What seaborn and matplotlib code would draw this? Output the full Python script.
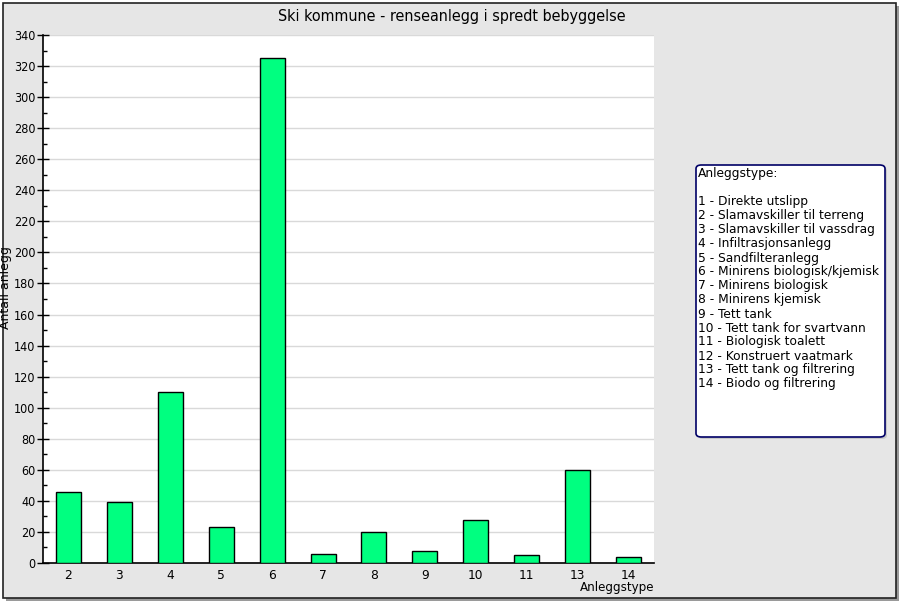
import matplotlib
matplotlib.use("Agg")
import matplotlib.pyplot as plt
import seaborn as sns
import pandas as pd
from matplotlib.patches import Rectangle, FancyBboxPatch
from matplotlib.ticker import MultipleLocator

categories = ["2", "3", "4", "5", "6", "7", "8", "9", "10", "11", "13", "14"]
values = [46, 39, 110, 23, 325, 6, 20, 8, 28, 5, 60, 4]
legend_title = "Anleggstype:"
legend_lines = [
    "1 - Direkte utslipp",
    "2 - Slamavskiller til terreng",
    "3 - Slamavskiller til vassdrag",
    "4 - Infiltrasjonsanlegg",
    "5 - Sandfilteranlegg",
    "6 - Minirens biologisk/kjemisk",
    "7 - Minirens biologisk",
    "8 - Minirens kjemisk",
    "9 - Tett tank",
    "10 - Tett tank for svartvann",
    "11 - Biologisk toalett",
    "12 - Konstruert vaatmark",
    "13 - Tett tank og filtrering",
    "14 - Biodo og filtrering",
]

sns.set_style("white")
plt.rcParams["font.family"] = ["DejaVu Sans"]
plt.rcParams["text.color"] = "black"
plt.rcParams["xtick.color"] = "black"
plt.rcParams["ytick.color"] = "black"

W, H = 906, 607
fig = plt.figure(figsize=(W / 100, H / 100), dpi=100)
fig.patch.set_facecolor("white")

# background frame with shadow
fig.patches.append(Rectangle((6 / W, 1 - 601 / H), 893 / W, 595 / H, transform=fig.transFigure,
                             facecolor="#9a9a9a", edgecolor="none", zorder=0))
fig.patches.append(Rectangle((3 / W, 1 - 598 / H), 893 / W, 595 / H, transform=fig.transFigure,
                             facecolor="#e6e6e6", edgecolor="#222222", linewidth=1.2, zorder=0.5))

ax = fig.add_axes([43 / W, 1 - 563 / H, (654 - 43) / W, (563 - 35) / H])
ax.set_zorder(5)
ax.set_facecolor("white")
df = pd.DataFrame({"Anleggstype": categories, "Antall": values})
sns.barplot(data=df, x="Anleggstype", y="Antall", order=categories, color="#00ff80",
            saturation=1, width=0.49, edgecolor="black", linewidth=1.0, ax=ax, zorder=3)

ax.set_xlim(-0.5, len(categories) - 0.5)
ax.set_ylim(0, 340)
ax.yaxis.set_major_locator(MultipleLocator(20))
ax.yaxis.set_minor_locator(MultipleLocator(10))
ax.grid(axis="y", which="major", color="#d9d9d9", linewidth=1.0, zorder=0)
ax.set_axisbelow(True)

for s in ["top", "right"]:
    ax.spines[s].set_visible(False)
ax.spines["left"].set_color("black")
ax.spines["bottom"].set_color("black")
ax.spines["left"].set_linewidth(1.2)
ax.spines["bottom"].set_linewidth(1.2)

ax.set_xticks(range(len(categories)))
ax.set_xticks([i + 0.5 for i in range(-1, len(categories))], minor=True)
ax.tick_params(axis="x", which="major", length=0, pad=4, labelsize=8.8, colors="black")
ax.tick_params(axis="x", which="minor", length=5, direction="in", width=1, color="black")
ax.tick_params(axis="y", which="major", length=9, direction="inout", width=1, labelsize=9, pad=1,
               left=True, color="black", labelcolor="black")
ax.tick_params(axis="y", which="minor", length=3, direction="in", width=1, left=True, color="black")
for lab in ax.get_yticklabels():
    lab.set_fontstretch("condensed")
ax.set_xlabel("")
ax.set_ylabel("")

fig.text(6 / W, 1 - 288 / H, "Antall anlegg", rotation=90, ha="center", va="center", fontsize=9,
         color="black", zorder=6)
fig.text(654 / W, 1 - 587 / H, "Anleggstype", ha="right", va="center", fontsize=8.6, color="black", zorder=6)
fig.text(452 / W, 1 - 17 / H, "Ski kommune - renseanlegg i spredt bebyggelse", ha="center", va="center",
         fontsize=11.5, fontstretch="condensed", color="black", zorder=6)

# legend box
lx0, ly0, lx1, ly1 = 696, 165, 885, 437
fig.patches.append(FancyBboxPatch((lx0 / W + 2 / W, 1 - ly1 / H - 2 / H), (lx1 - lx0) / W, (ly1 - ly0) / H,
                                  boxstyle="round,pad=0,rounding_size=0.006", transform=fig.transFigure,
                                  facecolor="#c8c8c8", edgecolor="none", zorder=1))
fig.patches.append(FancyBboxPatch((lx0 / W, 1 - ly1 / H), (lx1 - lx0) / W, (ly1 - ly0) / H,
                                  boxstyle="round,pad=0,rounding_size=0.006", transform=fig.transFigure,
                                  facecolor="white", edgecolor="#000066", linewidth=1.2, zorder=2))
fig.text(698 / W, 1 - 174 / H, legend_title, ha="left", va="center", fontsize=8.8, color="black", zorder=3)
for i, line in enumerate(legend_lines):
    fig.text(698 / W, 1 - (202 + 14 * i) / H, line, ha="left", va="center", fontsize=8.8,
             color="black", zorder=3)

fig.savefig("out.png", dpi=100, facecolor=fig.get_facecolor())
